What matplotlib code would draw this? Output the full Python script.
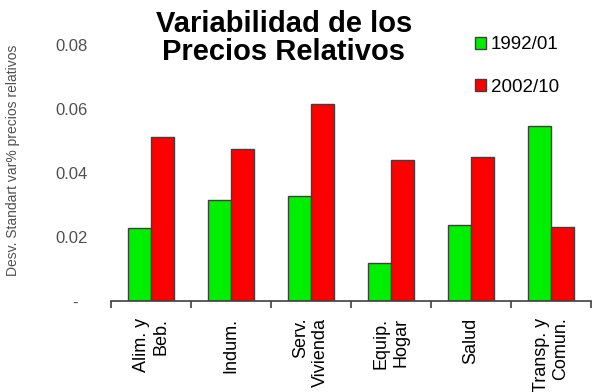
import numpy as np
import matplotlib
matplotlib.use("Agg")
import matplotlib.pyplot as plt

plt.rcParams['font.family'] = ['Liberation Sans', 'DejaVu Sans']

categories = ["Alim. y\nBeb.", "Indum.", "Serv.\nVivienda", "Equip.\nHogar", "Salud", "Transp. y\nComun."]
v1992 = [0.0228, 0.0316, 0.0328, 0.0119, 0.0238, 0.0547]
v2002 = [0.0513, 0.0475, 0.0616, 0.0440, 0.0450, 0.0231]
yticks = [0, 0.02, 0.04, 0.06, 0.08]
ytick_labels = ["-  ", "0.02", "0.04", "0.06", "0.08"]

fig = plt.figure(figsize=(5.97, 3.92), dpi=100)
ax = fig.add_axes([111/597, 1-301/392, 480/597, (301-13)/392])

x = np.arange(len(categories))
w = 0.29
b1 = ax.bar(x - w/2, v1992, w, color='#00ee00', edgecolor='#404040', linewidth=1, label='1992/01')
b2 = ax.bar(x + w/2, v2002, w, color='#ff0000', edgecolor='#404040', linewidth=1, label='2002/10')

ax.set_xlim(-0.5, len(categories) - 0.5)
ax.set_ylim(0, 0.09)

for s in ['top', 'right', 'left']:
    ax.spines[s].set_visible(False)
ax.spines['bottom'].set_color('#404040')
ax.spines['bottom'].set_linewidth(1.2)

ax.set_yticks(yticks)
ax.set_yticklabels(ytick_labels)
ax.tick_params(axis='y', length=0, pad=16.5, labelsize=12, labelcolor='#505050')

ax.set_xticks(x)
ax.set_xticklabels(categories, rotation=90, fontsize=13, va='top', ha='center', multialignment='right')
ax.set_xticks(np.arange(len(categories) + 1) - 0.5, minor=True)
ax.tick_params(axis='x', which='major', length=0, pad=12)
ax.tick_params(axis='x', which='minor', length=5, width=1.2, color='#404040', direction='out')

ax.set_ylabel("Desv. Standart var% precios relativos", fontsize=10, color='#505050')
ax.yaxis.set_label_coords(-0.19, 0.49)

fig.text(284/597, 1-38/392, "Variabilidad de los\nPrecios Relativos", ha='center', va='center',
         fontsize=21, fontweight='bold', linespacing=1.0)

ax.legend(handles=[b1, b2], loc='center left', bbox_to_anchor=(458/597, 1-66/392),
          bbox_transform=fig.transFigure, frameon=False, fontsize=13.5,
          handlelength=0.6, handleheight=0.6, handletextpad=0.25, labelspacing=1.35)

fig.savefig("out.png", dpi=100)
